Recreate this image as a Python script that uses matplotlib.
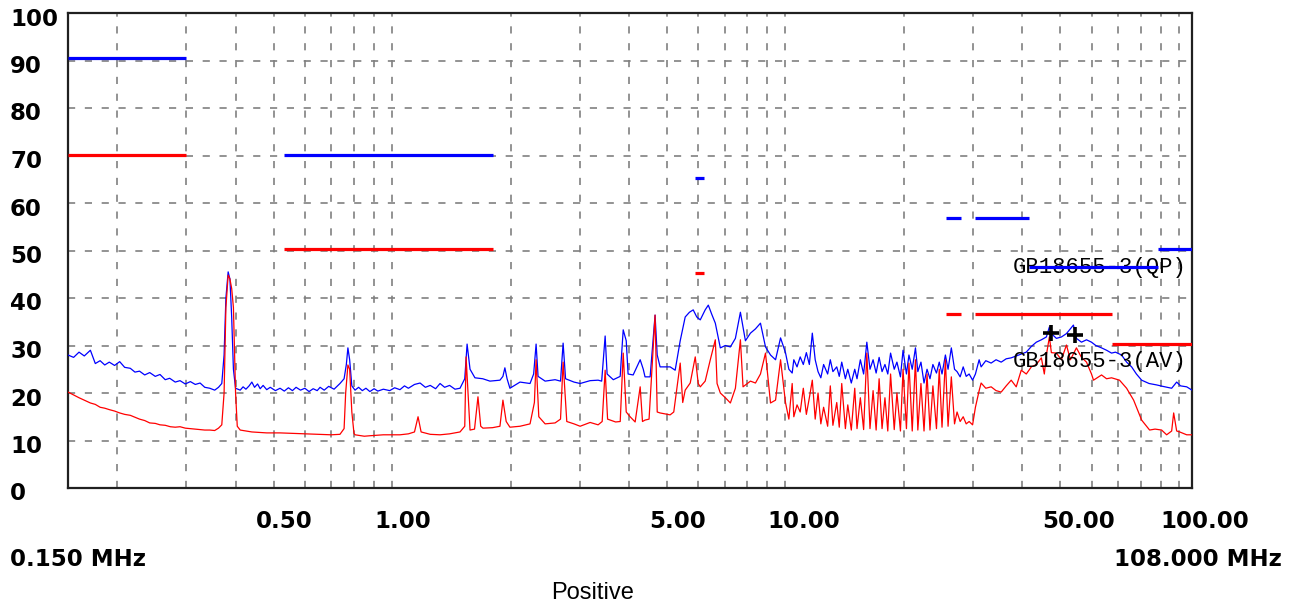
import matplotlib
matplotlib.use('Agg')
import matplotlib.pyplot as plt
from matplotlib import transforms

# Peak trace (blue), frequency in MHz / level in dBuV
blue_freq = [0.150, 0.155, 0.160, 0.165, 0.171, 0.176, 0.181, 0.186, 0.191, 0.197,
             0.203, 0.209, 0.216, 0.222, 0.228, 0.235, 0.242, 0.250, 0.257, 0.265,
             0.272, 0.281, 0.289, 0.298, 0.307, 0.316, 0.325, 0.334, 0.344, 0.354,
             0.362, 0.369, 0.374, 0.378, 0.383, 0.387, 0.391, 0.395, 0.400, 0.411,
             0.418, 0.425, 0.433, 0.440, 0.447, 0.455, 0.462, 0.470, 0.480, 0.490,
             0.505, 0.519, 0.532, 0.545, 0.558, 0.570, 0.585, 0.600, 0.615, 0.630,
             0.645, 0.656, 0.672, 0.690, 0.712, 0.737, 0.755, 0.765, 0.772, 0.780,
             0.790, 0.805, 0.822, 0.840, 0.858, 0.878, 0.900, 0.920, 0.950, 0.986,
             1.015, 1.047, 1.075, 1.100, 1.140, 1.178, 1.215, 1.250, 1.290, 1.324,
             1.360, 1.400, 1.445, 1.488,
             1.530, 1.551, 1.578, 1.624, 1.700, 1.773, 1.880, 1.913, 1.935, 1.960,
             1.993, 2.114, 2.242, 2.290, 2.323, 2.350, 2.449, 2.596, 2.680, 2.721,
             2.760, 2.900, 3.006, 3.187, 3.340, 3.410, 3.480, 3.520, 3.650, 3.800,
             3.868, 3.937, 3.980, 4.100, 4.272, 4.350, 4.395, 4.528, 4.661, 4.720,
             4.800, 5.091, 5.243, 5.400, 5.560, 5.700, 5.827, 5.950, 6.073, 6.250,
             6.365, 6.500, 6.632, 6.829, 7.034, 7.243, 7.459, 7.681, 7.910, 8.146,
             8.389, 8.638, 8.896, 9.161, 9.435, 9.716,
             10.0, 10.2, 10.4, 10.5, 10.7, 10.9, 11.1, 11.3, 11.5, 11.7,
             11.9, 12.1, 12.3, 12.5, 12.8, 13.0, 13.2, 13.5, 13.7, 13.9,
             14.2, 14.4, 14.7, 15.0, 15.2, 15.5, 15.8, 16.1, 16.4, 16.7,
             17.0, 17.3, 17.6, 17.9, 18.2, 18.5, 18.9, 19.2, 19.6, 19.9,
             20.3, 20.6, 21.0, 21.4, 21.7, 22.1, 22.5, 22.9, 23.3, 23.7,
             24.2, 24.6, 25.0, 25.5, 25.9, 26.4, 26.9, 27.3, 27.8, 28.3,
             28.8, 29.3, 29.9, 30.4,
             31.07, 31.43, 32.30, 33.33,
             34.30, 35.35, 36.40, 37.48, 38.60, 39.75, 40.94, 42.17, 43.42, 44.72,
             46.05, 46.87, 47.42, 48.83, 50.29, 51.79, 53.95, 54.91, 56.55, 58.24,
             59.97, 61.50, 63.60, 65.50, 67.44, 69.00, 71.52, 73.65, 75.84, 78.00,
             80.42, 84.00, 87.80, 91.00, 95.88, 98.73, 101.0, 104.7, 108.0]
blue_level = [28.0, 27.5, 28.6, 27.8, 29.0, 26.2, 26.8, 25.9, 26.5, 25.8,
              26.6, 25.4, 25.2, 24.4, 24.6, 23.8, 24.3, 23.5, 23.9, 22.8,
              23.1, 22.3, 22.6, 21.9, 22.4, 21.8, 22.1, 21.2, 21.0, 20.6,
              21.2, 22.0, 28.0, 40.0, 45.5, 44.0, 36.0, 25.0, 21.0, 20.6,
              21.3, 20.8, 21.5, 22.3, 21.2, 21.9, 20.9, 21.6, 20.7, 21.2,
              20.5, 21.0, 20.4, 21.1, 20.5, 21.2, 20.6, 21.0, 20.3, 20.9,
              20.5, 21.2, 20.6, 21.4, 20.8, 22.0, 23.0, 26.0, 29.5, 27.0,
              21.5, 20.6, 21.2, 20.5, 21.0, 20.3, 20.9, 20.4, 20.8, 20.5,
              21.1, 20.7, 21.5, 21.0, 21.8, 22.1, 21.2, 21.6, 20.9, 22.0,
              21.2, 21.6, 20.8, 21.0,
              23.0, 30.3, 25.0, 23.2, 23.0, 22.5, 22.7, 23.5, 25.3, 23.0,
              21.0, 22.3, 22.0, 24.0, 30.3, 23.5, 22.5, 22.8, 22.5, 30.5,
              23.0, 22.3, 22.0, 22.6, 22.7, 22.5, 32.0, 24.0, 22.8, 23.5,
              33.3, 31.0, 24.0, 23.8, 27.0, 25.0, 23.4, 23.4, 36.4, 28.0,
              25.5, 25.5, 24.8, 31.0, 36.0, 37.0, 37.5, 36.0, 35.4, 37.5,
              38.5, 36.5, 34.7, 29.5, 30.0, 29.7, 31.5, 37.0, 31.0, 32.6,
              33.5, 34.7, 29.7, 28.0, 27.0, 31.6,
              28.5, 25.0, 24.2, 27.0, 25.5, 27.6, 26.0, 28.5, 26.0, 32.6,
              27.0, 24.5, 23.2, 26.0, 24.0, 27.0, 24.5, 25.5, 23.5, 26.5,
              23.0, 25.0, 22.1, 25.0, 23.0, 27.0, 24.0, 30.7, 25.0, 27.0,
              24.2, 27.5, 24.5, 26.0, 24.0, 28.4, 25.0, 26.5, 23.4, 29.0,
              24.0, 28.0, 25.0, 29.5, 24.5, 26.5, 22.1, 25.0, 23.0, 26.0,
              24.2, 26.5, 24.0, 28.0, 25.0, 29.5, 25.0, 24.5, 23.4, 25.5,
              23.5, 24.0, 22.7, 24.0,
              27.0, 25.5, 26.8, 26.3,
              27.0, 26.5, 27.2, 27.4, 27.8, 28.2, 28.6, 29.8, 30.7, 31.2,
              31.8, 33.9, 32.5, 31.5, 31.8, 32.5, 34.3, 31.5, 30.7, 31.2,
              30.7, 30.0, 29.5, 29.0, 28.4, 28.6, 28.0, 26.5, 25.5, 24.0,
              22.7, 22.0, 21.7, 21.4, 21.0, 22.3, 21.5, 21.3, 20.6]

# Average trace (red)
red_freq = [0.150, 0.155, 0.160, 0.166, 0.171, 0.176, 0.181, 0.186, 0.191, 0.197,
            0.203, 0.209, 0.216, 0.222, 0.228, 0.235, 0.242, 0.250, 0.257, 0.265,
            0.273, 0.281, 0.289, 0.298, 0.307, 0.316, 0.325, 0.334, 0.344, 0.354,
            0.362, 0.369, 0.374, 0.378, 0.383, 0.387, 0.391, 0.395, 0.400, 0.404,
            0.411, 0.440, 0.480, 0.519, 0.560, 0.600, 0.656, 0.700, 0.737, 0.755,
            0.762, 0.772, 0.780, 0.790, 0.800, 0.805, 0.850, 0.878, 0.950, 1.047,
            1.100, 1.140, 1.164, 1.185, 1.250, 1.324, 1.400, 1.488, 1.530, 1.542,
            1.560, 1.578, 1.620, 1.653, 1.680, 1.702, 1.800, 1.880, 1.913, 1.950,
            1.993, 2.114, 2.242, 2.300, 2.323, 2.360, 2.449, 2.596, 2.680, 2.721,
            2.780, 2.900, 3.006, 3.187, 3.340, 3.420, 3.480, 3.530, 3.700, 3.801,
            3.868, 3.937, 4.028, 4.148, 4.272, 4.330, 4.395, 4.500, 4.661, 4.720,
            4.800, 5.091, 5.200, 5.400, 5.480, 5.560, 5.726, 5.897, 6.000, 6.073,
            6.250, 6.440, 6.632, 6.700, 6.829, 7.034, 7.243, 7.459, 7.681, 7.800,
            8.146, 8.389, 8.638, 8.896, 9.161, 9.435, 9.716,
            10.0, 10.2, 10.4, 10.5, 10.7, 10.9, 11.1, 11.3, 11.5, 11.7,
            11.9, 12.1, 12.3, 12.5, 12.8, 13.0, 13.2, 13.5, 13.7, 13.9,
            14.2, 14.4, 14.7, 15.0, 15.2, 15.5, 15.8, 16.1, 16.4, 16.7,
            17.0, 17.3, 17.6, 17.9, 18.2, 18.5, 18.9, 19.2, 19.6, 19.9,
            20.3, 20.6, 21.0, 21.4, 21.7, 22.1, 22.5, 22.9, 23.3, 23.7,
            24.2, 24.6, 25.0, 25.5, 25.9, 26.4, 26.9, 27.3, 27.8, 28.3,
            28.8, 29.3, 29.9, 30.4,
            31.07, 31.43, 32.30, 33.33, 34.30, 35.35, 36.40, 37.48,
            38.60, 39.75, 40.94, 42.17, 43.42, 44.72, 45.50, 46.05, 46.87, 47.42,
            48.83, 50.29, 51.79, 53.00, 54.91, 56.55, 58.24, 59.97, 60.68, 63.60,
            65.50, 67.44, 70.66, 73.65, 76.74, 80.42, 84.27, 87.00, 90.41, 93.10,
            95.88, 97.01, 98.73, 100.5, 104.7, 108.0]
red_level = [20.2, 19.6, 19.0, 18.4, 17.9, 17.6, 17.0, 16.8, 16.5, 16.2,
             15.8, 15.5, 15.3, 14.9, 14.5, 14.2, 13.7, 13.6, 13.3, 13.2,
             12.9, 12.8, 12.9, 12.6, 12.5, 12.4, 12.3, 12.2, 12.2, 12.1,
             12.6, 13.3, 20.0, 38.0, 44.8, 44.0, 42.0, 38.0, 20.0, 13.0,
             12.2, 11.8, 11.6, 11.6, 11.5, 11.4, 11.3, 11.2, 11.3, 12.5,
             20.0, 25.9, 25.0, 16.0, 11.5, 11.2, 10.9, 11.0, 11.2, 11.2,
             11.4, 11.8, 15.0, 11.8, 11.3, 11.2, 11.4, 11.8, 13.0, 27.6,
             20.0, 12.2, 12.4, 19.2, 13.0, 12.6, 12.7, 13.0, 18.5, 14.0,
             12.8, 13.0, 13.5, 18.0, 27.0, 15.0, 13.5, 13.7, 14.5, 26.5,
             14.0, 13.5, 13.0, 13.8, 13.3, 14.0, 24.8, 14.5, 13.9, 14.0,
             28.4, 16.0, 15.0, 13.9, 21.3, 14.0, 14.3, 14.5, 36.4, 16.0,
             15.8, 15.4, 16.0, 26.3, 18.0, 20.6, 22.1, 27.6, 22.0, 21.3,
             22.5, 27.0, 31.2, 22.0, 20.0, 19.0, 17.9, 21.0, 31.2, 21.3,
             22.5, 22.1, 24.0, 28.4, 17.9, 18.5, 27.0,
             18.0, 14.5, 22.0, 15.0, 17.5, 16.0, 21.0, 15.5, 19.0, 22.7,
             14.5, 20.0, 13.5, 17.0, 13.0, 21.5, 13.2, 18.0, 12.8, 22.0,
             12.5, 17.5, 12.2, 21.0, 12.5, 19.0, 12.3, 28.4, 12.5, 20.5,
             12.2, 23.0, 12.5, 19.0, 12.0, 24.0, 12.3, 20.0, 12.0, 25.0,
             12.5, 26.3, 12.0, 27.0, 12.2, 22.0, 12.0, 24.0, 12.2, 21.5,
             12.5, 25.0, 12.8, 27.0, 13.0, 23.4, 13.5, 16.0, 14.0, 15.0,
             13.5, 14.0, 13.3, 17.0,
             20.5, 22.1, 21.0, 21.3, 20.5, 20.2, 21.5, 22.7,
             21.3, 24.8, 24.0, 25.5, 26.0, 27.4, 24.0, 28.0, 31.8, 28.5,
             28.4, 27.0, 30.1, 27.0, 29.5, 27.5, 26.5, 24.0, 22.7, 23.8,
             23.0, 23.2, 22.7, 21.0, 18.5, 14.3, 12.2, 12.4, 12.2, 11.2,
             12.0, 15.8, 12.0, 11.8, 11.2, 11.2]

# Limit lines: QP (blue) and AV (red)
qp_start = [0.15, 0.53, 5.9, 25.6, 30.3, 41.5, 88.5]
qp_stop = [0.30, 1.80, 6.2, 28.0, 41.5, 88.5, 108.0]
qp_level = [90.6, 70.2, 65.3, 56.8, 56.8, 46.5, 50.3]
av_start = [0.15, 0.53, 5.9, 25.6, 30.3, 67.6]
av_stop = [0.30, 1.80, 6.2, 28.0, 67.6, 108.0]
av_level = [70.2, 50.3, 45.3, 36.6, 36.6, 30.3]

# Peak markers
mark_freq = [47.4, 54.3]
mark_level = [32.6, 32.2]

y_ticks = [0, 10, 20, 30, 40, 50, 60, 70, 80, 90, 100]
x_tick_vals = [0.5, 1.0, 5.0, 10.0, 50.0, 100.0]
x_tick_labels = ['0.50', '1.00', '5.00', '10.00', '50.00', '100.00']
grid_freqs = [m * d for d in (0.1, 1.0, 10.0) for m in range(2, 10)] + [1.0, 10.0, 100.0]

W, H = 1299, 612
fig = plt.figure(figsize=(W / 100, H / 100), dpi=100)
ax = fig.add_axes([68 / W, 1 - 488 / H, (1192 - 68) / W, (488 - 13) / H])
ax.set_xscale('log')
ax.set_xlim(0.15, 108)
ax.set_ylim(0, 100)

# grid
for g in grid_freqs:
    if 0.15 < g < 108:
        ax.axvline(g, color='#808080', lw=1.2, dashes=(4.3, 5.8), zorder=1)
for v in y_ticks[1:-1]:
    ax.axhline(v, color='#808080', lw=1.2, dashes=(4.3, 5.8), zorder=1)

ax.plot(blue_freq, blue_level, color='#0000ff', lw=0.9, zorder=3)
ax.plot(red_freq, red_level, color='#ff0000', lw=0.9, zorder=4)

ax.text(1187 / W, 1 - 362 / H, 'GB18655-3(AV)', transform=fig.transFigure,
        family='Liberation Mono', fontsize=16, ha='right', va='center', color='black', zorder=5)
ax.text(1187 / W, 1 - 267 / H, 'GB18655-3(QP)', transform=fig.transFigure,
        family='Liberation Mono', fontsize=16, ha='right', va='center', color='black', zorder=5)

ax.hlines(qp_level, qp_start, qp_stop, color='#0000ff', lw=2.3, zorder=6)
ax.hlines(av_level, av_start, av_stop, color='#ff0000', lw=2.3, zorder=6)

ax.plot(mark_freq, mark_level, ls='none', marker='+', ms=11, mew=2.6, color='black', zorder=7)

ax.set_xticks([])
ax.set_yticks([])
ax.minorticks_off()
for s in ax.spines.values():
    s.set_color('#202020')
    s.set_linewidth(1.6)

bold = dict(family='DejaVu Sans', weight='bold', fontsize=16.5, color='black')
ytrans = transforms.blended_transform_factory(fig.transFigure, ax.transData)
ytrans = transforms.offset_copy(ytrans, fig=fig, x=0, y=-6, units='dots')
for v in y_ticks:
    fig.text(10 / W, v, str(v), transform=ytrans, ha='left', va='center', **bold)

xtrans = transforms.blended_transform_factory(ax.transData, ax.transAxes)
xtrans = transforms.offset_copy(xtrans, fig=fig, x=-18, y=-34, units='dots')
for v, lab in zip(x_tick_vals, x_tick_labels):
    fig.text(v, 0, lab, transform=xtrans, ha='left', va='center', **bold)

fig.text(10 / W, 1 - 560 / H, '0.150 MHz', ha='left', va='center', **bold)
fig.text(1282 / W, 1 - 560 / H, '108.000 MHz', ha='right', va='center', **bold)
fig.text(593 / W, 1 - 593 / H, 'Positive', ha='center', va='center',
         family='Liberation Sans', fontsize=17, color='black')

fig.savefig('out.png', dpi=100)
